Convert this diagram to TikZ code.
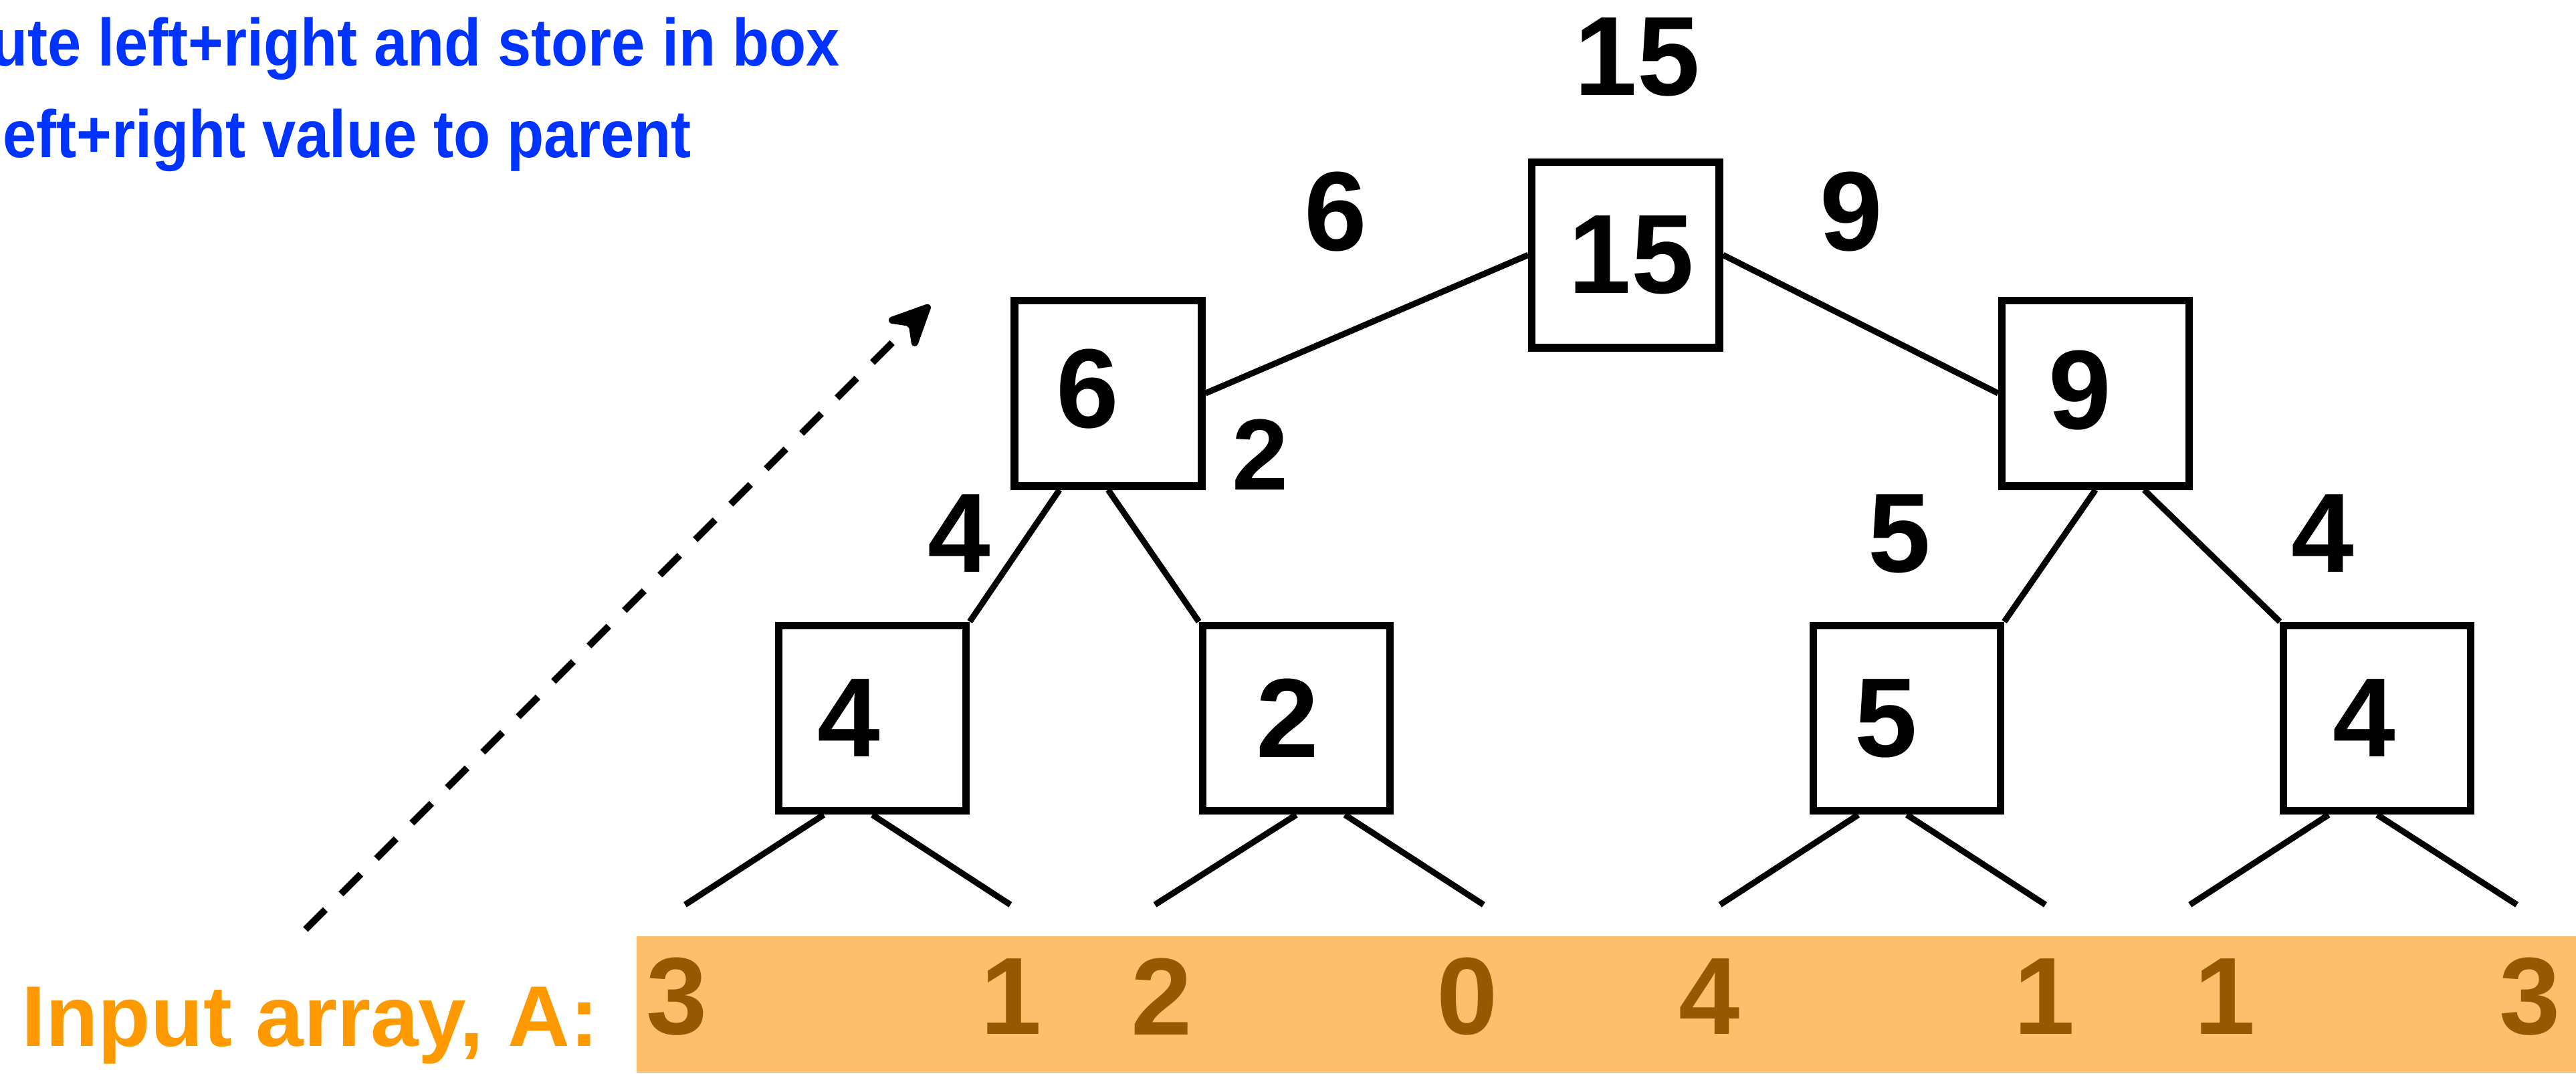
\documentclass[tikz,border=0pt]{standalone}
\usepackage{fontspec}
\setmainfont{Liberation Sans}
\newfontfamily\notefont[FakeStretch=0.9]{Liberation Sans}
\usetikzlibrary{arrows.meta,calc}
\definecolor{noteblue}{RGB}{0,51,255}
\definecolor{inputorange}{RGB}{255,153,0}
\definecolor{arrayfill}{RGB}{252,191,108}
\definecolor{arraybrown}{RGB}{149,90,0}
\tikzset{
  box/.style={draw, line width=1.3pt, minimum width=1.14cm, minimum height=1.13cm, inner sep=0pt},
  num/.style={font=\fontsize{19.5pt}{22pt}\selectfont\bfseries, inner sep=0pt},
  numsm/.style={font=\fontsize{17.5pt}{20pt}\selectfont\bfseries, inner sep=0pt},
  cell/.style={text=arraybrown, font=\fontsize{19pt}{22pt}\selectfont\bfseries, inner sep=0pt},
  note/.style={text=noteblue, font=\notefont\fontsize{11.6pt}{14pt}\selectfont\bfseries, inner sep=0pt, anchor=base west},
  inputlbl/.style={text=inputorange, font=\fontsize{14.9pt}{18pt}\selectfont\bfseries, inner sep=0pt, anchor=base west},
  edge/.style={line width=1.05pt},
  uparrow/.style={line width=1.2pt, dash pattern=on 0.17cm off 0.135cm, -{Stealth[length=0.32cm, width=0.3cm, inset=0.11cm, round]}}
}
\begin{document}
\begin{tikzpicture}
  \useasboundingbox (0,0) rectangle (15.68,6.537);

  % blue notes, cut at the left border
  \node[note] (note1) at (-0.064,6.137) {ute left+right and store in box};
  \node[note] (note2) at (0.012,5.58) {eft+right value to parent};

  % boxes of the tree
  \node[box, label={[num, xshift=0.035cm]center:15}] (root) at (9.895,4.985) {};
  \node[box, label={[num, xshift=-0.125cm, yshift=0.025cm]center:6}] (left) at (6.745,4.143) {};
  \node[box, label={[num, xshift=-0.095cm, yshift=0.018cm]center:9}] (right) at (12.755,4.143) {};
  \node[box, label={[num, xshift=-0.144cm]center:4}] (ll) at (5.31,2.165) {};
  \node[box, label={[num, xshift=-0.054cm]center:2}] (lr) at (7.89,2.165) {};
  \node[box, label={[num, xshift=-0.127cm]center:5}] (rl) at (11.607,2.165) {};
  \node[box, label={[num, xshift=-0.08cm]center:4}] (rr) at (14.47,2.165) {};

  % values passed up
  \node[num] (total) at (9.965,6.19) {15};
  \node[num] (wleft) at (8.13,5.25) {6};
  \node[num] (wright) at (11.27,5.25) {9};
  \node[numsm] (wlr) at (7.67,3.77) {2};
  \node[num] (wll) at (5.84,3.29) {4};
  \node[num] (wrl) at (11.56,3.285) {5};
  \node[num] (wrr) at (14.14,3.29) {4};

  % edges
  \draw[edge] (root.west) -- (left.east);
  \draw[edge] (root.east) -- (right.west);
  \draw[edge] ($(left.south west)!0.25!(left.south east)$) -- (ll.north east);
  \draw[edge] (left.south) -- (lr.north west);
  \draw[edge] (right.south) -- (rl.north east);
  \draw[edge] ($(right.south west)!0.75!(right.south east)$) -- (rr.north west);

  % open ends towards the array
  \foreach \x [count=\i] in {4.17,6.15,7.03,9.03,10.47,12.45,13.33,15.32}
    \coordinate (leaf\i) at (\x,1.03);
  \draw[edge] ($(ll.south west)!0.25!(ll.south east)$) -- (leaf1);
  \draw[edge] (ll.south) -- (leaf2);
  \draw[edge] (lr.south) -- (leaf3);
  \draw[edge] ($(lr.south west)!0.75!(lr.south east)$) -- (leaf4);
  \draw[edge] ($(rl.south west)!0.25!(rl.south east)$) -- (leaf5);
  \draw[edge] (rl.south) -- (leaf6);
  \draw[edge] ($(rr.south west)!0.25!(rr.south east)$) -- (leaf7);
  \draw[edge] (rr.south) -- (leaf8);

  % input array
  \node[fill=arrayfill, anchor=south west, minimum width=11.81cm, minimum height=0.83cm, inner sep=0pt] (arr) at (3.87,0) {};
  \foreach \x/\v [count=\i] in {4.12/3,6.155/1,7.07/2,8.93/0,10.405/4,12.445/1,13.545/1,15.40/3}
    \node[cell] (a\i) at (\x,0.47) {\v};
  \node[inputlbl] (inlbl) at (0.125,0.167) {Input array, A:};

  % dashed arrow up the tree
  \coordinate (up0) at (1.86,0.88);
  \coordinate (up1) at (5.66,4.68);
  \draw[uparrow] (up0) -- (up1);
\end{tikzpicture}
\end{document}
